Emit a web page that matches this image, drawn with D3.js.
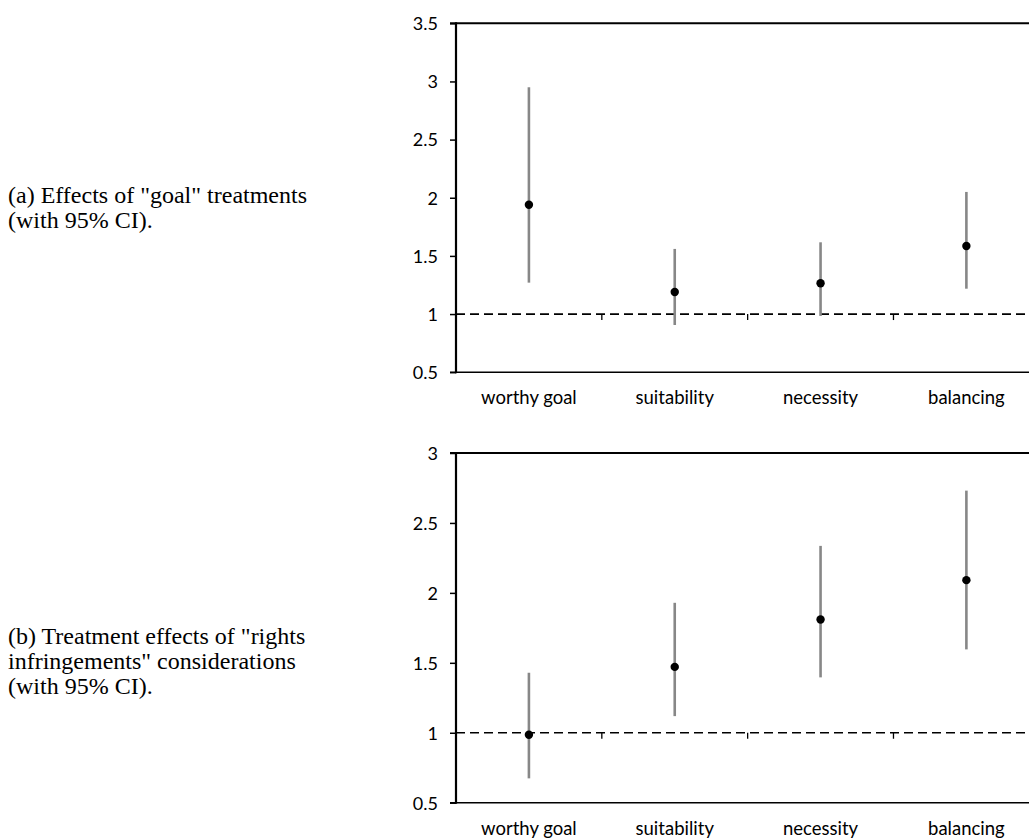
<!DOCTYPE html>
<html>
<head>
<meta charset="utf-8">
<script src="https://cdn.jsdelivr.net/npm/d3@7/dist/d3.min.js"></script>
<style>
  body { margin: 0; background: #fff; }
  .caption { font-family: "Liberation Serif", "Times New Roman", serif; font-size: 24px; fill: #000; }
  .cat { font-family: "Lato", "Liberation Sans", sans-serif; font-size: 18.5px; fill: #000; }
</style>
</head>
<body>
<script>
// categories on both panels
var categories = ["worthy goal", "suitability", "necessity", "balancing"];

// (a) goal treatments: estimate, lower and upper 95% CI
var goalEst   = [1.94, 1.19, 1.265, 1.585];
var goalLow   = [1.27, 0.906, 0.984, 1.218];
var goalHigh  = [2.95, 1.56, 1.617, 2.05];

// (b) rights infringements
var rightsEst  = [0.986, 1.471, 1.81, 2.091];
var rightsLow  = [0.674, 1.119, 1.396, 1.596];
var rightsHigh = [1.429, 1.929, 2.336, 2.731];

var ticksA = [0.5, 1, 1.5, 2, 2.5, 3, 3.5];
var ticksB = [0.5, 1, 1.5, 2, 2.5, 3];

var captionA = ['(a) Effects of "goal" treatments', '(with 95% CI).'];
var captionB = ['(b) Treatment effects of "rights', 'infringements" considerations', '(with 95% CI).'];

var W = 1029, H = 838;
var svg = d3.select("body").append("svg").attr("width", W).attr("height", H);

var x = d3.scaleBand().domain(categories).range([456, 1039.3]);

function panel(est, low, high, yDomain, yRange, tickVals, caption, capY) {
  var y = d3.scaleLinear().domain(yDomain).range(yRange);
  var g = svg.append("g");
  var top = y(yDomain[1]), bottom = y(yDomain[0]);

  // caption on the left, one text per line
  g.selectAll(".caption").data(caption).enter().append("text").attr("class", "caption")
    .attr("x", 8).attr("y", function(d, i) { return capY + i * 25; })
    .text(function(d) { return d; });

  // top and bottom borders
  g.append("line").attr("x1", 450).attr("x2", W).attr("y1", top).attr("y2", top)
    .attr("stroke", "#000").attr("stroke-width", 2);
  g.append("line").attr("x1", 450).attr("x2", W).attr("y1", bottom).attr("y2", bottom)
    .attr("stroke", "#000").attr("stroke-width", 1.5);

  // category axis crossing at 1, dashed
  var y1 = y(1);
  g.append("line").attr("x1", 456).attr("x2", W).attr("y1", y1).attr("y2", y1)
    .attr("stroke", "#000").attr("stroke-width", 1.7).attr("stroke-dasharray", "9,5");
  g.selectAll(".ctick").data(categories.slice(0, categories.length - 1)).enter().append("line")
    .attr("x1", function(d) { return x(d) + x.bandwidth(); })
    .attr("x2", function(d) { return x(d) + x.bandwidth(); })
    .attr("y1", y1).attr("y2", y1 + 6)
    .attr("stroke", "#000").attr("stroke-width", 1.3);

  // value axis
  var ax = g.append("g").attr("transform", "translate(456,0)")
    .call(d3.axisLeft(y).tickValues(tickVals).tickSize(6).tickPadding(12).tickFormat(function(d) { return String(d); }));
  ax.attr("font-family", "Lato, 'Liberation Sans', sans-serif").attr("font-size", 18);
  ax.select(".domain").remove();
  ax.selectAll(".tick line").attr("stroke", "#000").attr("stroke-width", 1.5);
  ax.selectAll(".tick text").attr("fill", "#000").attr("dy", "0.35em");
  g.append("line").attr("x1", 456).attr("x2", 456).attr("y1", top - 1).attr("y2", bottom + 1)
    .attr("stroke", "#000").attr("stroke-width", 2.2);

  // category labels
  g.selectAll(".cat").data(categories).enter().append("text").attr("class", "cat")
    .attr("x", function(d) { return x(d) + x.bandwidth() / 2; })
    .attr("y", bottom + 32).attr("text-anchor", "middle")
    .text(function(d) { return d; });

  // CI bars
  g.selectAll(".ci").data(categories).enter().append("line")
    .attr("x1", function(d) { return x(d) + x.bandwidth() / 2; })
    .attr("x2", function(d) { return x(d) + x.bandwidth() / 2; })
    .attr("y1", function(d, i) { return y(low[i]); })
    .attr("y2", function(d, i) { return y(high[i]); })
    .attr("stroke", "#878787").attr("stroke-width", 2.6);

  // point estimates
  g.selectAll(".pt").data(categories).enter().append("circle")
    .attr("cx", function(d) { return x(d) + x.bandwidth() / 2; })
    .attr("cy", function(d, i) { return y(est[i]); })
    .attr("r", 4.2).attr("fill", "#000");
}

panel(goalEst, goalLow, goalHigh, [0.5, 3.5], [372.2, 23.3], ticksA, captionA, 203);
panel(rightsEst, rightsLow, rightsHigh, [0.5, 3], [802.7, 453], ticksB, captionB, 644);
</script>
</body>
</html>
